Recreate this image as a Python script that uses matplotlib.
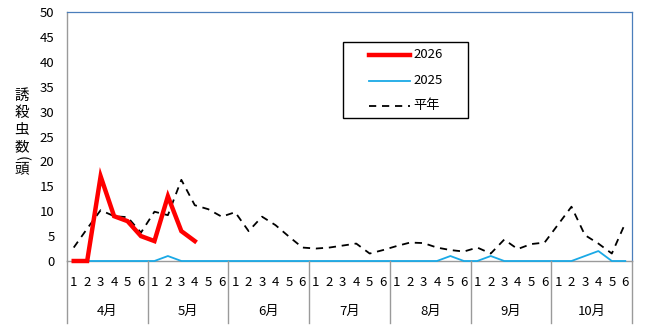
import matplotlib
matplotlib.use("Agg")
import matplotlib.pyplot as plt
from matplotlib.lines import Line2D
from matplotlib.patches import Rectangle
import matplotlib.transforms as mtrans

plt.rcParams['font.family'] = ['Noto Sans CJK JP', 'DejaVu Sans']

months = ["4月", "5月", "6月", "7月", "8月", "9月", "10月"]
periods = ["1", "2", "3", "4", "5", "6"]

# 半旬ごとの誘殺虫数
y2026 = [0, 0, 17, 9, 8, 5, 4, 13, 6, 4]
y2025 = [0, 0, 0, 0, 0, 0, 0, 1, 0, 0, 0, 0,
         0, 0, 0, 0, 0, 0, 0, 0, 0, 0, 0, 0,
         0, 0, 0, 0, 1, 0, 0, 1, 0, 0, 0, 0,
         0, 0, 1, 2, 0, 0]
normal = [2.7, 6.5, 10.2, 9.0, 8.8, 5.7, 9.9, 9.2, 16.3, 11.2, 10.4, 8.9,
          9.8, 6.0, 8.9, 7.2, 4.9, 2.7, 2.5, 2.7, 3.1, 3.5, 1.5, 2.2,
          3.0, 3.7, 3.6, 2.7, 2.2, 1.9, 2.7, 1.5, 4.3, 2.4, 3.4, 3.7,
          7.3, 10.9, 5.2, 3.5, 1.5, 7.6]

W, H = 645, 325
fig = plt.figure(figsize=(W / 100, H / 100), dpi=100)
ax = fig.add_axes([67 / W, (H - 261) / H, 565 / W, 249 / H])


def px(x, y):
    """pixel position (from top-left) -> figure fraction"""
    return x / W, (H - y) / H


styles = {
    "2026": dict(color="#FF0000", lw=3.2, solid_joinstyle="miter"),
    "2025": dict(color="#1AA9E6", lw=1.3),
    "平年": dict(color="black", lw=1.3, linestyle=(0, (4, 3.2))),
}

n = len(months) * len(periods)
ax.plot(range(len(normal)), normal, clip_on=False, zorder=3, **styles["平年"])
ax.plot(range(len(y2025)), y2025, clip_on=False, zorder=4, **styles["2025"])
ax.plot(range(len(y2026)), y2026, clip_on=False, zorder=5, **styles["2026"])

ax.set_xlim(-0.5, n - 0.5)
ax.set_ylim(0, 50)
ax.set_yticks(range(0, 51, 5))
ax.tick_params(axis="y", length=0, pad=9, labelsize=9.5)
ax.set_xticks([])

for side in ["top", "right"]:
    ax.spines[side].set_color("#4A7EBB")
    ax.spines[side].set_linewidth(0.9)
for side in ["left", "bottom"]:
    ax.spines[side].set_color("#9A9A9A")
    ax.spines[side].set_linewidth(1.0)

# 軸下の半旬・月ラベルと区切り線
trans = mtrans.blended_transform_factory(ax.transData, fig.transFigure)
y_day = (H - 282) / H
y_mon = (H - 311) / H
y_bot = (H - 323) / H
y_axis = (H - 261) / H
for m, name in enumerate(months):
    for k, p in enumerate(periods):
        ax.text(m * 6 + k, y_day, p, transform=trans, ha="center",
                va="center", fontsize=9.5)
    ax.text(m * 6 + 2.5, y_mon, name, transform=trans, ha="center",
            va="center", fontsize=9.5)
for m in range(len(months) + 1):
    x = m * 6 - 0.5
    fig.add_artist(Line2D([x, x], [y_bot, y_axis], transform=trans,
                          color="#9A9A9A", lw=1.0))

# 縦書きの軸ラベル
for ch, yy in [("誘", 96), ("殺", 113), ("虫", 130), ("数", 147), ("頭", 169)]:
    fig.text(*px(22, yy), ch, ha="center", va="center", fontsize=10.5)
fig.text(*px(22, 158), "(", ha="center", va="center", fontsize=10.5,
         rotation=-90)

# 凡例
fig.add_artist(Rectangle(px(343, 118), 125 / W, 76 / H, transform=fig.transFigure,
                         facecolor="white", edgecolor="black", lw=1.0, zorder=6))
for lab, yy in [("2026", 55), ("2025", 81), ("平年", 106)]:
    x0, y0 = px(369, yy)
    x1, _ = px(410, yy)
    fig.add_artist(Line2D([x0, x1], [y0, y0], transform=fig.transFigure,
                          zorder=7, **styles[lab]))
    fig.text(*px(413, yy), lab, ha="left", va="center", fontsize=9.5, zorder=7)

fig.savefig("out.png", dpi=100)
